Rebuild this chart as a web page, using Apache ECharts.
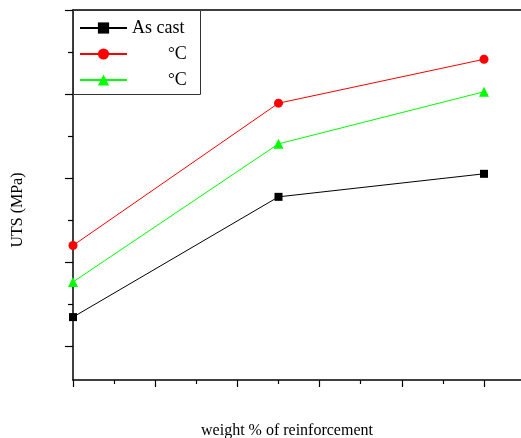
<!DOCTYPE html>
<html><head><meta charset="utf-8">
<script src="https://cdn.jsdelivr.net/npm/echarts@6/dist/echarts.min.js"></script>
<style>html,body{margin:0;padding:0;background:#fff}#c{width:521px;height:438px}</style>
</head><body><div id="c"></div>
<script>
var xValues = [0, 2.5, 5];
var seriesNames = ['As cast', '°C', '°C '];
var asCast = [117.4, 188.9, 202.6];
var temp1 = [160.0, 244.6, 270.7];
var temp2 = [138.3, 220.4, 251.4];
var xMajorTicks = [0, 1, 2, 3, 4, 5];
var xMinorTicks = [0.5, 1.5, 2.5, 3.5, 4.5];
var yMajorTicks = [100, 150, 200, 250, 300];
var yMinorTicks = [125, 175, 225, 275];
var xAxisTitle = 'weight % of reinforcement';
var yAxisTitle = 'UTS (MPa)';

function pairs(vals){ return vals.map(function(v,i){ return [xValues[i], v]; }); }
var font = 'Liberation Serif';
var XMAX = 5.45;
var chart = echarts.init(document.getElementById('c'));
chart.setOption({
  animation: false,
  backgroundColor: '#fff',
  grid: { left: 73, top: 10, right: 0, height: 370, containLabel: false },
  xAxis: [{
    type: 'value', min: 0, max: XMAX, position: 'bottom',
    axisLine: { show: true, onZero: false, lineStyle: { color: '#000', width: 1.5 } },
    axisTick: { show: true, inside: false, length: 7, customValues: xMajorTicks, lineStyle: { color: '#000', width: 1.2 } },
    axisLabel: { show: false }, splitLine: { show: false }
  }, {
    type: 'value', min: 0, max: XMAX, position: 'bottom', offset: 0,
    axisLine: { show: false },
    axisTick: { show: true, inside: false, length: 4, customValues: xMinorTicks, lineStyle: { color: '#000', width: 1.2 } },
    axisLabel: { show: false }, splitLine: { show: false }
  }, {
    type: 'value', min: 0, max: XMAX, position: 'top',
    axisLine: { show: true, onZero: false, lineStyle: { color: '#000', width: 1.5 } },
    axisTick: { show: false }, axisLabel: { show: false }, splitLine: { show: false }
  }],
  yAxis: [{
    type: 'value', min: 80, max: 300, position: 'left',
    axisLine: { show: true, onZero: false, lineStyle: { color: '#000', width: 1.5 } },
    axisTick: { show: true, inside: false, length: 8, customValues: yMajorTicks, lineStyle: { color: '#000', width: 1.2 } },
    axisLabel: { show: false }, splitLine: { show: false }
  }, {
    type: 'value', min: 80, max: 300, position: 'left', offset: 0,
    axisLine: { show: false },
    axisTick: { show: true, inside: false, length: 5, customValues: yMinorTicks, lineStyle: { color: '#000', width: 1.2 } },
    axisLabel: { show: false }, splitLine: { show: false }
  }],
  legend: {
    orient: 'vertical', left: 79, top: 19, padding: 0, itemWidth: 47, itemHeight: 14, itemGap: 8,
    data: seriesNames,
    textStyle: { fontFamily: font, fontSize: 18, color: '#000', lineHeight: 16,
      rich: {
        pad: { width: 36, fontSize: 18, lineHeight: 16, height: 16, fontFamily: font },
        o: { fontSize: 17, lineHeight: 16, height: 16, fontFamily: font, color: '#000', padding: [0,0,0,0] },
        c: { fontSize: 18, lineHeight: 16, height: 16, fontFamily: font, color: '#000' }
      }
    },
    formatter: function(n){ return n.indexOf('°C') === 0 ? '{pad|}{o|°}{c|C}' : n; }
  },
  graphic: [
    { type: 'rect', left: 73, top: 10, shape: { width: 127, height: 84 }, style: { fill: '#fff', stroke: '#333', lineWidth: 1 }, z: 1 },
    { type: 'text', x: 287, y: 431, style: { text: xAxisTitle, font: '16px "Liberation Serif"', fill: '#000', textAlign: 'center', textVerticalAlign: 'middle' } },
    { type: 'text', x: 18, y: 210, rotation: Math.PI / 2, style: { text: yAxisTitle, font: '16px "Liberation Serif"', fill: '#000', textAlign: 'center', textVerticalAlign: 'middle' } }
  ],
  series: [
    { name: seriesNames[0], type: 'line', data: pairs(asCast), symbol: 'rect', symbolSize: 8,
      itemStyle: { color: '#000' }, lineStyle: { color: '#000', width: 1 }, z: 3 },
    { name: seriesNames[1], type: 'line', data: pairs(temp1), symbol: 'circle', symbolSize: 9,
      itemStyle: { color: '#ff0000' }, lineStyle: { color: '#ff0000', width: 1 }, z: 3 },
    { name: seriesNames[2], type: 'line', data: pairs(temp2), symbol: 'triangle', symbolSize: 10,
      itemStyle: { color: '#00ff00' }, lineStyle: { color: '#00ff00', width: 1 }, z: 3 }
  ]
});
</script></body></html>
